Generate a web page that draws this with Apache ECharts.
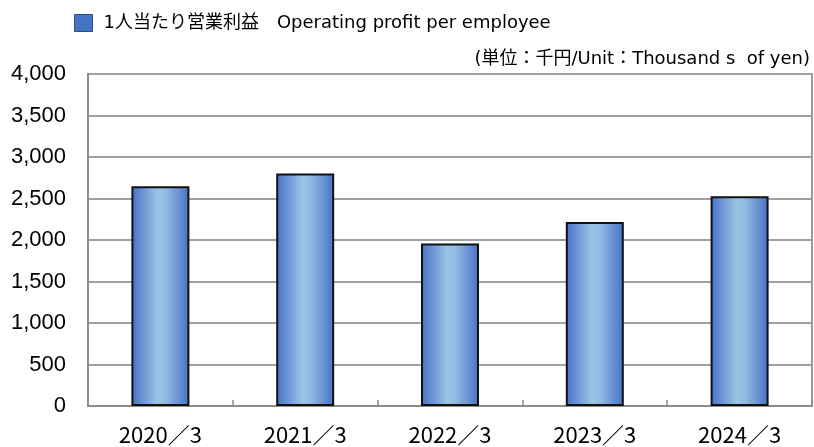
<!DOCTYPE html>
<html lang="ja">
<head>
    <meta charset="UTF-8">
    <title>1人当たり営業利益</title>
    <script src="https://cdn.jsdelivr.net/npm/echarts@6/dist/echarts.min.js"></script>
    <style>
        html, body { margin: 0; padding: 0; background: #ffffff; }
        #main { width: 814px; height: 447px; }
    </style>
</head>
<body>
<div id="main"></div>

<script type="text/javascript">
    // data
    var categories = ['2020／3', '2021／3', '2022／3', '2023／3', '2024／3'];
    var profitValues = [2647, 2800, 1957, 2217, 2527];
    var seriesName = '1人当たり営業利益　Operating profit per employee';
    var unitText = '(単位：千円/Unit：Thousand s  of yen)';

    var myChart = echarts.init(document.getElementById('main'));

    var barGradient = new echarts.graphic.LinearGradient(0, 0, 1, 0, [
        {offset: 0, color: '#4570c6'},
        {offset: 0.45, color: '#9dc3e6'},
        {offset: 0.6, color: '#93b9e2'},
        {offset: 1, color: '#4570c6'}
    ]);

    var option = {
        backgroundColor: '#ffffff',
        animation: false,
        title: {
            text: unitText,
            right: 4,
            top: 50,
            padding: 0,
            textStyle: {
                color: '#000000',
                fontFamily: "'DejaVu Sans', 'Noto Sans CJK JP'",
                fontSize: 18,
                fontWeight: 'normal'
            }
        },
        legend: {
            left: 74,
            top: 14,
            padding: 0,
            itemWidth: 18,
            itemHeight: 17,
            itemGap: 10,
            data: [{
                name: seriesName,
                icon: 'rect',
                itemStyle: {
                    color: '#4472c4',
                    borderColor: '#2f4f7f',
                    borderWidth: 1
                }
            }],
            textStyle: {
                color: '#000000',
                fontFamily: "'DejaVu Sans', 'Noto Sans CJK JP'",
                fontSize: 18,
                padding: [0, 0, 0, 6]
            }
        },
        grid: {
            left: 88,
            right: 2,
            top: 74,
            bottom: 41,
            show: true,
            borderColor: '#9a9a9a',
            borderWidth: 2
        },
        xAxis: {
            type: 'category',
            data: categories,
            axisLine: {
                lineStyle: {color: '#8c8c8c', width: 2}
            },
            axisTick: {
                show: true,
                inside: true,
                length: 6,
                lineStyle: {color: '#8c8c8c', width: 1.5}
            },
            axisLabel: {
                color: '#000000',
                fontFamily: 'Noto Sans CJK JP',
                fontSize: 22,
                margin: 18
            }
        },
        yAxis: {
            type: 'value',
            min: 0,
            max: 4000,
            interval: 500,
            axisLine: {
                show: true,
                lineStyle: {color: '#8c8c8c', width: 2}
            },
            axisTick: {show: false},
            axisLabel: {
                color: '#000000',
                fontFamily: 'Liberation Sans',
                fontSize: 22,
                margin: 22,
                formatter: function (v) {
                    return v.toLocaleString('en-US');
                }
            },
            splitLine: {
                lineStyle: {color: '#a0a0a0', width: 2}
            }
        },
        series: [{
            name: seriesName,
            type: 'bar',
            data: profitValues,
            barWidth: 58,
            itemStyle: {
                color: barGradient,
                borderColor: '#111111',
                borderWidth: 2
            }
        }]
    };

    myChart.setOption(option);
</script>
</body>
</html>
